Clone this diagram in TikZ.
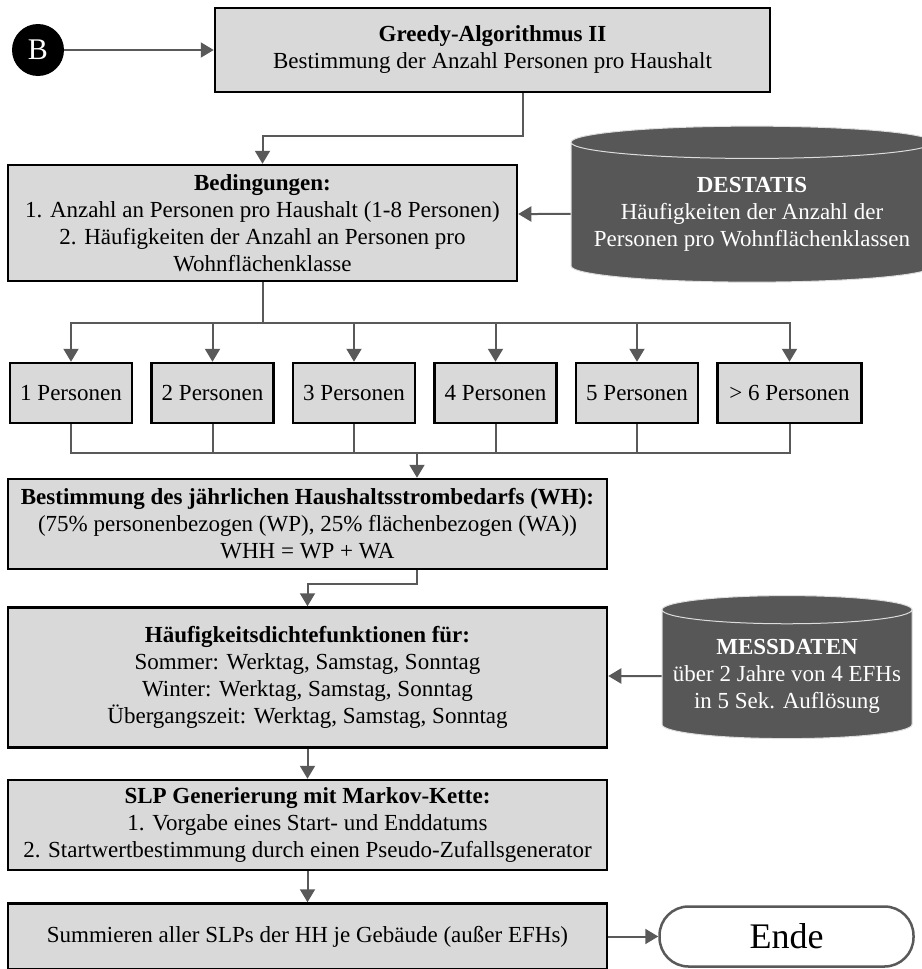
\documentclass[tikz,border=0pt]{standalone}
\usepackage{fontspec}
\setmainfont{Liberation Serif}
\usetikzlibrary{arrows.meta, positioning, shapes.geometric}
\definecolor{boxgray}{RGB}{217,217,217}
\definecolor{linegray}{RGB}{89,89,89}
\definecolor{dbgray}{RGB}{87,87,87}

\begin{document}
\begin{tikzpicture}[
    x=1pt, y=1pt,
    every node/.style={font=\fontsize{23}{27}\selectfont},
    box/.style={draw, line width=2.5pt, fill=boxgray, align=center, inner sep=2pt},
    pbox/.style={box, minimum width=122pt, minimum height=60pt},
    wbox/.style={box, minimum width=599pt},
    db/.style={cylinder, shape border rotate=90, draw=white!80!dbgray, line width=1pt, fill=dbgray, text=white, align=center},
    arrow/.style={-{Triangle[length=13pt, width=15pt]}, line width=2pt, linegray},
    conn/.style={line width=2pt, linegray}
]
\useasboundingbox (0,0) rectangle (921,-969);

\node[circle, fill=black, minimum size=52pt, inner sep=0pt, text=white, font=\fontsize{30}{30}\selectfont] (bnode) at (38,-50) {B};
\node[box, minimum width=555pt, minimum height=84pt] (greedy) at (492.5,-50) {\textbf{Greedy-Algorithmus II}\\Bestimmung der Anzahl Personen pro Haushalt};
\node[box, minimum width=509pt, minimum height=116pt] (cond) at (262.5,-223) {\textbf{Bedingungen:}\\1. Anzahl an Personen pro Haushalt (1-8 Personen)\\2. Häufigkeiten der Anzahl an Personen pro\\Wohnflächenklasse};
\node[db, minimum width=362pt, minimum height=156pt, aspect=0.1] (destatis) at (752,-214) {\textbf{DESTATIS}\\Häufigkeiten der Anzahl der\\Personen pro Wohnflächenklassen};

% Personen pro Haushalt
\node[pbox] (p1) at (71,-393) {1 Personen};
\node[pbox, right=17pt of p1] (p2) {2 Personen};
\node[pbox, right=17pt of p2] (p3) {3 Personen};
\node[pbox, right=17pt of p3] (p4) {4 Personen};
\node[pbox, right=17pt of p4] (p5) {5 Personen};
\node[pbox, minimum width=144pt, right=17pt of p5] (p6) {> 6 Personen};

\node[wbox, minimum height=90pt] (wh) at (307.5,-524) {\textbf{Bestimmung des jährlichen Haushaltsstrombedarfs (WH):}\\(75\% personenbezogen (WP), 25\% flächenbezogen (WA))\\WHH = WP + WA};
\node[wbox, minimum height=140pt, below=36pt of wh] (hdf) {\textbf{Häufigkeitsdichtefunktionen für:}\\Sommer: Werktag, Samstag, Sonntag\\Winter: Werktag, Samstag, Sonntag\\Übergangszeit: Werktag, Samstag, Sonntag};
\node[db, minimum width=250pt, minimum height=143pt, aspect=0.12] (messdaten) at (787,-676) {\textbf{MESSDATEN}\\über 2 Jahre von 4 EFHs\\in 5 Sek. Auflösung};
\node[wbox, minimum height=90pt, below=30pt of hdf] (slp) {\textbf{SLP Generierung mit Markov-Kette:}\\1. Vorgabe eines Start- und Enddatums\\2. Startwertbestimmung durch einen Pseudo-Zufallsgenerator};
\node[wbox, minimum height=66pt, below=31pt of slp] (summe) {Summieren aller SLPs der HH je Gebäude (außer EFHs)};
\node[draw=linegray, line width=2.5pt, fill=white, rounded corners=29pt, minimum width=254pt, minimum height=60pt, font=\fontsize{36}{36}\selectfont, right=50pt of summe] (ende) {Ende};

\coordinate (split) at ([yshift=-41pt]cond.south);
\coordinate (merge) at (417,-453);

\draw[arrow] (bnode) -- (bnode -| greedy.west);
\draw[arrow] ([xshift=30pt]greedy.south) -- ++(0,-43) -| (cond.north);
\draw[arrow] (destatis) -- (destatis -| cond.east);

\draw[conn] (cond.south) -- (split);
\draw[arrow] (split) -| (p1.north);
\draw[arrow] (split) -| (p2.north);
\draw[arrow] (split) -| (p3.north);
\draw[arrow] (split) -| (p4.north);
\draw[arrow] (split) -| (p5.north);
\draw[arrow] (split) -| (p6.north);

\draw[conn] (p1.south) |- (merge);
\draw[conn] (p2.south) |- (merge);
\draw[conn] (p3.south) |- (merge);
\draw[conn] (p4.south) |- (merge);
\draw[conn] (p5.south) |- (merge);
\draw[conn] (p6.south) |- (merge);
\draw[arrow] (merge) -- (merge |- wh.north);

\draw[arrow] (merge |- wh.south) -- ++(0,-14) -| (hdf.north);
\draw[arrow] (messdaten) -- (messdaten -| hdf.east);
\draw[arrow] (hdf) -- (slp);
\draw[arrow] (slp) -- (summe);
\draw[arrow] (summe) -- (ende);
\end{tikzpicture}
\end{document}
